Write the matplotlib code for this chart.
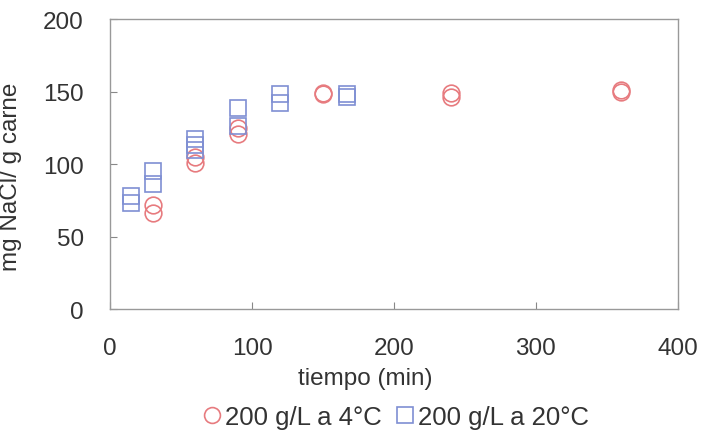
import numpy as np
import matplotlib
matplotlib.use("Agg")
import matplotlib.pyplot as plt

plt.rcParams['font.family'] = ['Liberation Sans', 'DejaVu Sans']

# 200 g/L a 4 C (circles)
t_4c = [30, 30, 60, 60, 90, 90, 150, 150, 240, 240, 360, 360]
nacl_4c = [72, 66, 105, 101, 125, 121, 149, 148, 149, 146, 151, 150]

# 200 g/L a 20 C (squares)
t_20c = [15, 15, 30, 30, 60, 60, 60, 90, 90, 120, 120, 167, 167]
nacl_20c = [78, 73, 95, 86, 117, 113, 110, 139, 126, 148, 142, 148, 146]

xticks = [0, 100, 200, 300, 400]
yticks = [0, 50, 100, 150, 200]

red = '#e77b7f'
blue = '#7f8fd3'
txt = '#333333'
fs = 17.5

fig = plt.figure(figsize=(7.01, 4.35), dpi=100)
ax = fig.add_axes([0.157, 0.287, 0.810, 0.667])

ax.plot(t_4c, nacl_4c, 'o', ms=12, mfc='none', mec=red, mew=1.2,
        label='200 g/L a 4°C')
ax.plot(t_20c, nacl_20c, 's', ms=12, mfc='none', mec=blue, mew=1.2,
        label='200 g/L a 20°C')

ax.set_xlim(0, 400)
ax.set_ylim(0, 200)
ax.set_xticks(xticks)
ax.set_yticks(yticks)
ax.tick_params(direction='in', length=5, width=0.8, color='#888888',
               labelsize=fs, labelcolor=txt)
ax.tick_params(axis='x', pad=20)
ax.tick_params(axis='y', pad=19)
for s in ax.spines.values():
    s.set_color('#999999')
    s.set_linewidth(1.0)

ax.set_xlabel('tiempo (min)', fontsize=fs, color=txt)
ax.xaxis.set_label_coords(0.45, -0.20)
ax.set_ylabel('mg NaCl/ g carne', fontsize=fs, color=txt)
ax.yaxis.set_label_coords(-0.155, 0.46)

fig.legend(loc='center', bbox_to_anchor=(0.56, 0.04), ncol=2, frameon=False,
           fontsize=18.5, labelcolor=txt, handletextpad=-0.1, columnspacing=0.3,
           handlelength=1.2, markerscale=0.95)

fig.savefig('out.png', dpi=100)
